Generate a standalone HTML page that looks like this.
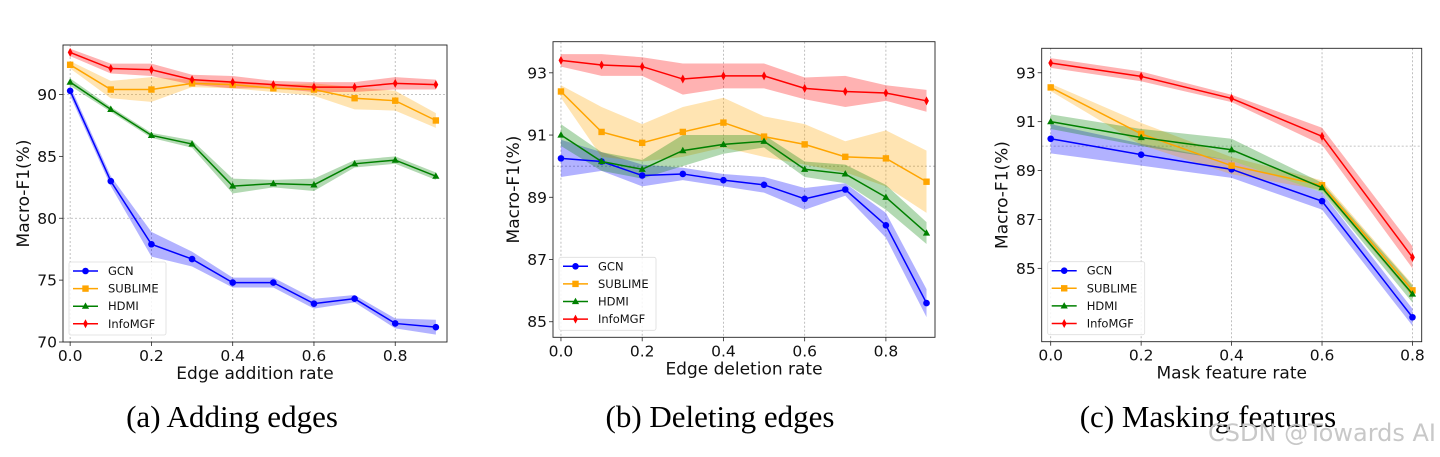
<!DOCTYPE html>
<html><head><meta charset="utf-8"><style>
html,body{margin:0;padding:0;background:#fff;width:1440px;height:457px;overflow:hidden}
svg{display:block}
text{font-family:"DejaVu Sans","Liberation Sans",sans-serif}
.cap{font-family:"Liberation Serif",serif;font-size:31px;fill:#000}
</style></head><body>
<svg id="root" width="1440" height="457" xmlns="http://www.w3.org/2000/svg">
<text class="cap" x="232" y="427" text-anchor="middle">(a) Adding edges</text>
<text class="cap" x="720" y="427" text-anchor="middle">(b) Deleting edges</text>
<text class="cap" x="1208" y="427" text-anchor="middle">(c) Masking features</text>
<text x="1436" y="441" text-anchor="end" font-family="Liberation Sans, sans-serif" font-size="24" fill="#c8c8c8">CSDN @Towards AI</text>
</svg>
<script>
// ----- Chart A: adding edges -----
const xA = [0,0.1,0.2,0.3,0.4,0.5,0.6,0.7,0.8,0.9];
const gcnA = [90.3,83.0,77.9,76.7,74.8,74.8,73.1,73.5,71.5,71.2];
const gcnAErr = [0.4,0.4,1.0,0.6,0.4,0.4,0.4,0.3,0.4,0.6];
const subA = [92.4,90.4,90.4,90.9,90.8,90.5,90.4,89.7,89.5,87.9];
const subAErr = [0.3,0.7,1.0,0.3,0.3,0.3,0.5,0.9,0.8,0.6];
const hdmiA = [91.0,88.8,86.7,86.0,82.6,82.8,82.7,84.4,84.7,83.4];
const hdmiAErr = [0.3,0.2,0.2,0.3,0.6,0.3,0.5,0.3,0.3,0.3];
const infoA = [93.4,92.1,92.0,91.2,91.0,90.8,90.6,90.6,90.9,90.8];
const infoAErr = [0.3,0.4,0.5,0.4,0.5,0.3,0.4,0.4,0.5,0.4];
const yTicksA = [70,75,80,85,90];
const yGridA = [80,90];
// ----- Chart B: deleting edges -----
const xB = [0,0.1,0.2,0.3,0.4,0.5,0.6,0.7,0.8,0.9];
const gcnB = [90.25,90.15,89.7,89.75,89.55,89.4,88.95,89.25,88.1,85.6];
const gcnBErr = [0.6,0.3,0.35,0.2,0.2,0.25,0.35,0.2,0.4,0.45];
const subB = [92.4,91.1,90.75,91.1,91.4,90.95,90.7,90.3,90.25,89.5];
const subBErr = [0.2,0.8,0.6,0.8,0.8,0.65,0.65,0.5,0.9,1.0];
const hdmiB = [91.0,90.15,89.9,90.5,90.7,90.8,89.9,89.75,89.0,87.85];
const hdmiBErr = [0.35,0.3,0.3,0.5,0.3,0.2,0.25,0.3,0.4,0.35];
const infoB = [93.4,93.25,93.2,92.8,92.9,92.9,92.5,92.4,92.35,92.1];
const infoBErr = [0.2,0.35,0.3,0.5,0.4,0.4,0.35,0.5,0.25,0.35];
const yTicksB = [85,87,89,91,93];
const yGridB = [90];
// ----- Chart C: masking features -----
const xC = [0,0.2,0.4,0.6,0.8];
const gcnC = [90.3,89.65,89.05,87.75,83.0];
const gcnCErr = [0.6,0.45,0.35,0.35,0.35];
const subC = [92.4,90.5,89.2,88.4,84.1];
const subCErr = [0.15,0.45,0.35,0.2,0.25];
const hdmiC = [91.0,90.35,89.85,88.3,83.95];
const hdmiCErr = [0.3,0.35,0.45,0.2,0.35];
const infoC = [93.4,92.85,91.95,90.4,85.45];
const infoCErr = [0.2,0.2,0.15,0.35,0.45];
const yTicksC = [85,87,89,91,93];
const yGridC = [90];
const xTicks = [0,0.2,0.4,0.6,0.8];
const seriesNames = ["GCN","SUBLIME","HDMI","InfoMGF"];

const NS = "http://www.w3.org/2000/svg";
const root = document.getElementById("root");
const colors = ["#0000ff","#ffa500","#008000","#ff0000"];
const fills = ["rgba(0,0,255,0.3)","rgba(255,165,0,0.3)","rgba(0,128,0,0.3)","rgba(255,0,0,0.3)"];
function mk(tag, attrs, parent){const e=document.createElementNS(NS,tag);for(const k in attrs)e.setAttribute(k,attrs[k]);(parent||root).appendChild(e);return e;}

function marker(g, kind, x, y, c){
  let m;
  if(kind===0) m=mk("circle",{cx:x,cy:y,r:3.3,fill:c},g);
  else if(kind===1) m=mk("rect",{x:x-3.2,y:y-3.2,width:6.4,height:6.4,fill:c},g);
  else if(kind===2) m=mk("polygon",{points:`${x},${y-3.8} ${x+3.6},${y+2.6} ${x-3.6},${y+2.6}`,fill:c},g);
  else m=mk("polygon",{points:`${x},${y-4.5} ${x+2.4},${y} ${x},${y+4.5} ${x-2.4},${y}`,fill:c},g);
  
  
}

function chart(cfg){
  const g = mk("g",{});
  
  
  const X = v => cfg.x0 + (v - cfg.xmin)/(cfg.xmax - cfg.xmin)*(cfg.x1 - cfg.x0);
  const Y = v => cfg.y1 - (v - cfg.ymin)/(cfg.ymax - cfg.ymin)*(cfg.y1 - cfg.y0);
  xTicks.forEach(t=>{ if(t>cfg.xs[cfg.xs.length-1]+1e-9) return; const l=mk("line",{x1:X(t),x2:X(t),y1:cfg.y0,y2:cfg.y1,stroke:"#b0b0b0","stroke-width":0.8,"stroke-dasharray":"2,2"},g);
     });
  cfg.grid.forEach(t=>{ const l=mk("line",{x1:cfg.x0,x2:cfg.x1,y1:Y(t),y2:Y(t),stroke:"#b0b0b0","stroke-width":0.8,"stroke-dasharray":"2,2"},g);
     });
  cfg.series.forEach((s,i)=>{
    const [vals,err]=s;
    const up = cfg.xs.map((x,j)=>`${X(x)},${Y(vals[j]+err[j])}`);
    const lo = cfg.xs.map((x,j)=>`${X(x)},${Y(vals[j]-err[j])}`).reverse();
    const band=mk("polygon",{points:up.concat(lo).join(" "),fill:fills[i],stroke:"none"},g);
    
    
  });
  cfg.series.forEach((s,i)=>{
    const [vals]=s;
    const pl=mk("polyline",{points:cfg.xs.map((x,j)=>`${X(x)},${Y(vals[j])}`).join(" "),fill:"none",stroke:colors[i],"stroke-width":1.5},g);
    
    
    cfg.xs.forEach((x,j)=>marker(g,i,X(x),Y(vals[j]),colors[i]));
  });
  const fr=mk("rect",{x:cfg.x0,y:cfg.y0,width:cfg.x1-cfg.x0,height:cfg.y1-cfg.y0,fill:"none",stroke:"#222","stroke-width":0.9},g);
   
  xTicks.forEach(t=>{ if(t>cfg.xs[cfg.xs.length-1]+1e-9) return;
    mk("line",{x1:X(t),x2:X(t),y1:cfg.y1,y2:cfg.y1+4,stroke:"#222","stroke-width":0.8},g);
    const tx=mk("text",{x:X(t),y:cfg.y1+19,"text-anchor":"middle","font-size":15.5,fill:"#111"},g);
    tx.textContent=t.toFixed(1);
     });
  cfg.yt.forEach(t=>{
    mk("line",{x1:cfg.x0-4,x2:cfg.x0,y1:Y(t),y2:Y(t),stroke:"#222","stroke-width":0.8},g);
    const tx=mk("text",{x:cfg.x0-6,y:Y(t)+5.5,"text-anchor":"end","font-size":15.5,fill:"#111"},g);
    tx.textContent=t;
     });
  const xl=mk("text",{x:(cfg.x0+cfg.x1)/2,y:cfg.y1+37,"text-anchor":"middle","font-size":17,fill:"#111"},g);
  xl.textContent=cfg.xlabel;  
  const yx=cfg.x0-cfg.ylOff, yy=(cfg.y0+cfg.y1)/2;
  const yl=mk("text",{x:yx,y:yy,"text-anchor":"middle","font-size":17,fill:"#111",transform:`rotate(-90 ${yx} ${yy})`},g);
  yl.textContent="Macro-F1(%)";  
  const lx=cfg.x0+6, ly=cfg.y1-80;
  const lg=mk("g",{},g);  
  mk("rect",{x:lx,y:ly,width:97,height:73,rx:2,fill:"#fff","fill-opacity":0.85,stroke:"#ddd","stroke-width":0.8},lg);
  seriesNames.forEach((n,i)=>{
    const cy=ly+9+i*17.6;
    const e=mk("g",{},lg);  
    mk("line",{x1:lx+4,x2:lx+29,y1:cy,y2:cy,stroke:colors[i],"stroke-width":1.5},e);
    marker(e,i,lx+16.5,cy,colors[i]);
    const t=mk("text",{x:lx+39,y:cy+4,"font-size":11.5,fill:"#111"},e); t.textContent=n;
  });
}

chart({name:"chart-adding-edges",x0:63,x1:447,y0:45,y1:342,xmin:-0.0176,xmax:0.9274,ymin:70,ymax:94.0,xs:xA,
  series:[[gcnA,gcnAErr],[subA,subAErr],[hdmiA,hdmiAErr],[infoA,infoAErr]],yt:yTicksA,grid:yGridA,xlabel:"Edge addition rate",ylOff:34});
chart({name:"chart-deleting-edges",x0:553,x1:935,y0:41.7,y1:337.3,xmin:-0.0196,xmax:0.9209,ymin:84.5,ymax:94.0,xs:xB,
  series:[[gcnB,gcnBErr],[subB,subBErr],[hdmiB,hdmiBErr],[infoB,infoBErr]],yt:yTicksB,grid:yGridB,xlabel:"Edge deletion rate",ylOff:34});
chart({name:"chart-masking-features",x0:1041.7,x1:1421.7,y0:48.3,y1:341.7,xmin:-0.0199,xmax:0.8204,ymin:82.0,ymax:94.0,xs:xC,
  series:[[gcnC,gcnCErr],[subC,subCErr],[hdmiC,hdmiCErr],[infoC,infoCErr]],yt:yTicksC,grid:yGridC,xlabel:"Mask feature rate",ylOff:34});
</script>
</body></html>
